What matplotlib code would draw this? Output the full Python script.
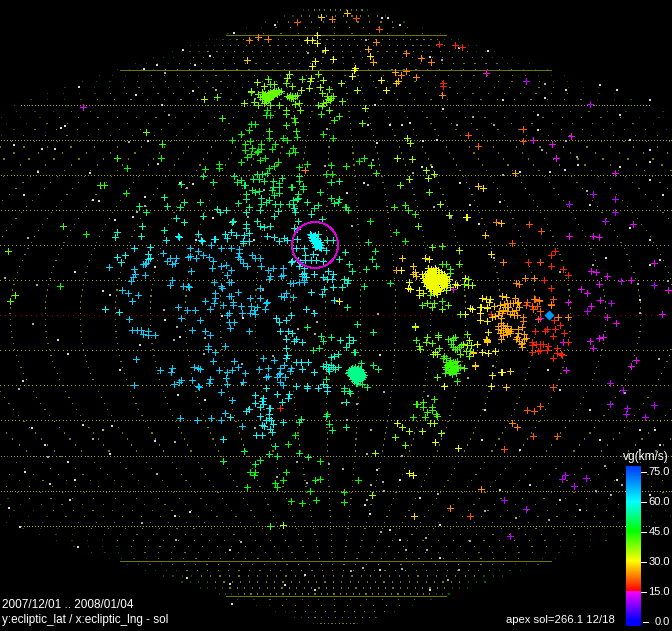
import numpy as np
import matplotlib
matplotlib.use("Agg")
import matplotlib.pyplot as plt
from matplotlib.colors import LinearSegmentedColormap
from matplotlib.patches import Circle

# map units: 3.505 per degree, origin in the upper-left corner of the sinusoidal map
# ---------- radiants, per geocentric speed vg (km/s) ----------
v11 = [(526,81),(590,104),(593,194),(615,199),(569,204),(615,212),(605,221),(621,281),(654,285),(587,311),(611,303),
       (610,383),(623,390),(610,404),(627,408),(626,414),(654,405),(645,417),(510,536),(562,479),(565,475),(574,486),(586,478),(504,500),(526,509)]
v13 = [(83,107),(486,73),(533,140),(552,144),(571,136),(556,158),(615,173),(633,224),(569,236),(593,236),(599,237),(654,263),
       (591,271),(596,272),(607,276),(631,280),(599,284),(668,290),(581,289),(587,293),(600,300),(591,306),(568,302),(662,314),
       (453,289),(540,318),(568,302),(590,341),(593,348),(599,338),(603,337),(607,317),(616,323),(563,342),(566,370),(631,366),(636,360)]
v17 = [(439,44),(455,45),(462,47),(443,83),(443,86),(563,269),(568,275),(555,251),(551,255),(528,262),(551,266),(544,280),(551,288),
       (491,314),(280,408),(532,342),(532,345),(536,344),(540,344),(543,344),(532,352),(540,350),(538,351),(547,350),(548,346),
       (557,348),(568,342),(553,358),(557,353),(561,354),(562,355),(535,331),(547,329),(545,331),(555,329),(560,325),(553,336),(564,333),(554,320)]
v20 = [(297,22),(356,18),(379,29),(523,129),(523,141),(468,135),(478,146),(529,224),(541,231),(512,243),(540,262),(553,299),(551,304),
       (527,302),(526,305),(532,306),(535,299),(539,301),(537,306),(533,309),(540,311),(538,319),(553,387),(527,410),(534,411),(540,406),(533,436),(557,436),(504,449),(470,516)]
v23 = [(249,40),(258,37),(268,39),(332,19),(305,170),(376,42),(406,53),(421,58),(431,62),(442,95),(401,75),(416,77),(406,71),(496,222),
       (503,262),(525,278),(534,278),(516,283),(519,284),(539,300),(534,299),(551,305),(523,317),(523,321),(558,317),(568,317),(512,423),(517,427),(481,489),(450,508)]
v25 = [(504,304),(507,303),(510,303),(505,307),(508,307),(513,303),(517,303),(518,302),(512,311),(507,311),(503,310),(510,314),(516,310),(517,315),
       (514,315),(519,307),(499,311),(502,313),(498,315),(501,318),(515,298),(515,173),(368,49),(373,62),(395,72),(396,270),
       (501,323),(503,325),(507,326),(498,329),(501,330),(500,333),(503,335),(507,334),(510,333),(501,339),(507,330),(510,331),(518,329),(522,327),
       (518,333),(517,337),(524,334),(516,339),(519,341),(524,339),(526,338),(522,343),(522,347),(521,344),(505,328),(498,326),(503,330),(506,332),(511,329)]
v27 = [(321,17),(247,60),(347,13),(398,81),(396,83),(478,186),(501,223),(485,235),(506,387),(510,371),(475,365),(473,352),(495,316),(492,317),
       (494,306),(500,305),(487,307),(502,296),(506,297),(487,340),(487,342),(473,353),(475,366),(414,516),(486,339),(487,341),(402,258),(413,266),(415,272),(413,274),(416,276)]
v29 = [(317,35),(370,56),(483,188),(491,254),(425,258),(429,259),(480,307),(480,320),(488,332),(489,302),(492,375),(491,386),(482,298),(486,299),(490,299)]
v31 = [(307,40),(312,40),(317,43),(325,50),(315,61),(312,66),(333,59),(354,70),(355,68),(352,76),(381,80),(386,90),(466,217),(467,217),
       (339,301),(401,270),(409,282),(408,288),(410,289),(419,290),(419,295),(455,284),(457,285),(465,278),(481,307),(487,308),(480,313),(470,308),(472,309),(465,314),
       (487,321),(477,344),(482,352),(488,353),(495,351),(501,372),(502,372),(415,326),(458,448),(435,442),(409,473),(413,475),(444,386),(397,423)]
gem = [(425,274),(428,271),(431,269),(435,268),(438,270),(441,272),(444,274),(446,277),(423,278),(426,278),(429,275),(432,272),(435,272),(438,274),(441,276),(444,279),
       (447,281),(424,282),(427,282),(430,279),(433,276),(436,275),(439,278),(442,280),(445,283),(426,286),(429,285),(432,282),(435,279),(438,282),(441,284),(444,287),
       (429,288),(432,286),(435,284),(438,286),(441,288),(431,291),(434,289),(437,290),(440,291),(434,293),(437,294),(428,268),(447,285),(422,274),(449,279),
       (427,273),(430,272),(433,270),(436,270),(439,272),(442,274),(445,276),(425,276),(428,277),(431,277),(434,274),(437,277),(440,280),(443,282),(446,283),(428,280),(431,281),(434,281),(437,280),(440,278),(443,277),
       (425,280),(428,283),(431,284),(434,283),(437,283),(440,283),(443,285),(427,284),(430,287),(433,287),(436,288),(439,289),(442,286),(433,291),(436,292),(429,273),(432,275),(435,276),(438,276),(441,279),(433,279)]
v35 = [(289,74),(287,78),(310,81),(311,78),(323,80),(257,82),(264,86),(320,87),(309,88),(301,90),(251,91),(204,99),(244,103),(283,525),(407,138),(410,143),(412,159),
       (397,158),(426,170),(428,178),(434,174),(409,179),(440,204),(449,215),(459,250),(459,264),(450,287),(446,290),(468,285),(472,285),(341,83),(357,90),(365,108),
       (423,293),(435,352),(433,354),(437,354),(469,340),(463,344),(467,345),(471,345),(422,431),(409,431),(441,433),(402,427),(375,453),(372,495),(430,423),(434,423),(415,327)]
cluster_n1 = [(258,94),(260,97),(262,92),(262,99),(264,96),(265,94),(266,98),(266,101),(267,95),(268,93),(268,97),(269,99),(270,95),(270,92),(271,97),(272,93),(273,96),(274,90),
              (275,93),(276,91),(277,94),(279,92),(281,91),(287,96),(289,97),(290,95),(291,98),(292,96),(293,98),(295,96),(297,95),(270,105),(264,103),(258,105),
              (263,94),(265,99),(267,97),(268,100),(269,94),(271,94),(272,96),(273,92),(274,94),(276,93),(278,90)]
cluster_n2 = [(318,105),(323,103),(322,106),(329,110),(322,93),(327,96),(333,96),(330,100),(329,89),(300,110),(295,104),(299,103),(286,110),(279,105),(254,102),(217,97),(302,79),(268,79),(286,83),(270,84),(274,84),(292,86),(318,74),(251,92),(326,102),(328,99),(331,98)]
v39 = cluster_n1 + cluster_n2 + [(146,132),(15,295),(10,301),(8,251),(342,101),(362,123),(400,185),(429,192),(418,226),(459,264),(422,305),(427,303),(448,305),(442,309),(464,284),(468,279),(432,247),
       (427,337),(426,342),(432,343),(438,335),(438,337),(419,346),(420,349),(439,348),(460,354),(466,351),(470,351),(469,356),(464,368),(437,377),(405,445),(395,437),
       (467,334),(434,303),(432,307),(430,295),(460,314)]
south_lime = [(451,344),(453,347),(455,349),(457,349),(459,347),(461,345),(448,339),(453,338),(455,337),(453,340),(444,356),(446,358),(443,358),(445,373),(450,372),(456,373),(457,381),
              (447,365),(450,367),(452,365),(454,369),(456,365),(458,368),(448,370),(451,370),(455,371),(445,367),(460,367),(453,362),(457,361),(446,362),(450,360),(449,364),(455,362),(452,374),
              (448,367),(453,367),(450,365),(446,369),(449,372),(451,363),(455,367),(457,367)]
v42 = south_lime + [(222,118),(286,125),(269,131),(296,131),(295,122),(294,118),(286,114),(321,114),(334,120),(162,144),(117,158),(63,226),(100,185),(104,185),(339,116),(376,173),(371,165),(394,207),(405,205),(408,210),(415,214),
       (442,246),(442,301),(442,264),(446,264),(450,269),(450,273),(416,340),(270,526),(416,404),(417,404),(423,402),(423,407),(434,399),(432,407),(432,410),(427,412),(425,417),(413,417),(436,414),(437,416)]
v45 = [(251,124),(255,124),(249,130),(241,134),(323,134),(297,137),(232,140),(250,141),(269,138),(283,138),(287,140),(333,138),(245,144),(245,150),(252,148),(251,154),(261,144),(261,149),(258,151),(257,152),(275,144),(272,149),(293,148),(289,153),(295,152),
       (247,157),(241,162),(260,160),(265,158),(278,162),(274,166),(269,168),(219,164),(219,168),(205,169),(299,167),(307,164),(331,165),(326,174),(332,174),(266,115),(270,115),(267,110),
       (161,158),(127,168),(126,193),(86,234),(60,286),(364,158),(359,161),(346,166),(370,221),(396,232),(405,241),(358,480),(344,492),(344,502),(315,480),(320,479),(310,491),(291,501),(302,503),(316,500),(250,472),(255,472),(254,475),(295,435),(288,444),(326,416),(327,414),(320,461),(286,472),(283,480),(275,483),(277,487),(247,487)]
v50 = [(203,176),(234,176),(257,174),(262,174),(267,173),(299,176),(299,181),(331,182),(181,184),(213,182),(241,180),(237,182),(244,185),(245,185),(253,179),(259,179),(264,181),(273,181),(282,178),(279,183),(279,187),(273,187),(272,190),(291,187),(292,187),(303,186),(303,189),(252,190),(255,192),(259,191),(279,193),(274,195),(298,194),(320,192),(298,198),(246,194),(246,199),(331,198),(334,203),
       (146,212),(368,242),(390,283),(339,199),(338,202),(345,207),(346,207),(348,210),(375,251),(372,259),(366,269),(376,266),(364,286),(373,365),(378,369),(361,363),(357,383),(362,384),(367,387),(269,454),(277,456),(299,453),(308,457),(244,451),(223,461),(260,460),(255,464),(329,424),(332,430),(326,379),(307,327),(313,350),(319,348)]
teal_swarm = [(349,370),(352,368),(355,367),(358,368),(361,370),(363,372),(350,373),(353,371),(356,370),(359,372),(362,374),(351,376),(354,374),(357,373),(360,375),(363,377),(352,379),(355,377),(358,376),(361,378),(354,381),(357,380),(360,380),(356,383),(348,373),(364,375),
              (351,369),(354,369),(357,369),(360,369),(349,372),(352,372),(355,372),(358,372),(361,372),(350,375),(353,375),(356,375),(359,375),(362,376),(353,378),(356,378),(359,378),(362,379),(355,380),(358,381)]
v53 = teal_swarm + [(339,181),(349,264),(352,271),(364,286),(347,307),(357,324),(373,332),(354,352),(355,352),(346,427),(344,388),(344,391),(349,391),(350,393),(321,336),(331,337),(323,341),(326,416),(301,419),(299,422),(275,446),(139,206),(164,197),(167,206),(184,202),(180,207),(200,202),(238,203),(249,207),(246,199),(261,198),(261,204),(266,202),(269,200),(275,204),(280,204),(289,204),(293,204),(293,200),(297,199),(307,202),(318,205),(314,208)]
v57 = [(278,211),(217,209),(220,212),(226,210),(246,212),(260,210),(295,212),(294,208),(311,214),(274,216),(176,218),(184,222),(203,216),(232,222),(233,221),(246,224),(246,228),(257,221),(260,226),(264,227),(270,226),(298,221),(322,219),(142,226),(117,232),(115,237),(141,236),(164,230),(294,228),(318,234),(327,240),(333,240),(297,229),
       (345,252),(339,259),(344,279),(348,280),(347,283),(342,287),(340,340),(349,343),(353,340),(349,337),(346,347),(346,402),(331,357),(334,356),(326,364),(328,369),(333,367),(329,371),(326,367),(331,365),(323,366),(335,369),(338,367),(338,354)]
cyan_swarm = [(311,237),(313,236),(315,235),(317,238),(312,240),(314,239),(316,241),(318,240),(320,242),(314,243),(316,244),(318,243),(320,245),(315,247),(317,246),(319,247),(321,248),(313,238),(310,234),
              (313,241),(315,238),(315,243),(317,241),(319,244),(316,246),(318,245),(320,247),(311,235),(312,238),(314,236)]
v60 = cyan_swarm + [(178,236),(179,237),(166,240),(198,234),(201,240),(202,241),(215,239),(214,239),(225,234),(227,238),(231,232),(236,235),(244,235),(249,233),(243,241),(249,241),(243,243),(267,236),(274,237),(284,238),(287,240),(279,241),(297,239),(304,248),(296,248),(326,250),(313,254),(305,255),(298,260),(292,261),(291,262),(300,262),(305,260),(311,260),(316,260),(323,261),(304,268),(299,266),(314,274),(328,271),(323,277),(333,274),(327,279),(332,279),(302,274),(306,277),(304,273),(311,292),(322,294),(324,289),(333,287),(306,309),(334,300),(314,313),(291,315),
       (105,309),(119,312),(117,257),(125,255),(121,262),(134,248),(150,247),(148,254),(148,259),(150,258),(276,318),(286,320),(279,322),(280,331),(288,331),(292,333),(286,339),(296,339),(294,341),(302,342),(286,348),(287,355),(286,358),(296,362),(301,362),(308,362),(302,369),(314,372),(296,386),(307,386),(307,388),(318,388),(323,384),(327,387),(327,391),(289,394),(288,398),(282,402),(283,422),(273,424),(270,429),(272,432),(256,435),(262,435),(223,439),(260,416),(269,414),(266,420),(271,420),(269,418),(262,425),(264,426),(269,408),(270,408),(249,409),(246,411),(263,398),(262,401),(263,404),(260,407),(255,395),(255,403),(277,394),(266,388),(225,413),(230,417)]
v64 = [(134,269),(135,274),(133,277),(131,281),(145,275),(109,267),(122,290),(128,293),(138,295),(132,301),(143,264),(145,264),(146,263),(163,253),(170,258),(176,258),(167,261),(172,264),(175,263),(190,248),(190,256),(188,257),(198,251),(196,258),(211,245),(221,248),(231,248),(239,249),(239,253),(203,255),(209,257),(238,257),(240,259),(243,263),(247,266),(252,255),(255,258),(260,258),(261,266),(268,270),(273,268),(270,276),(269,279),(283,268),(281,276),(283,275),(293,283),(290,283),(299,282),(304,282),(302,276),(304,280),(284,297),(281,296),(293,297),(286,293),(260,288),(266,303),(267,302),(265,309),
       (172,280),(170,285),(183,286),(188,286),(189,287),(214,282),(221,286),(222,288),(229,282),(231,282),(238,292),(178,307),(187,310),(195,310),(210,309),(205,301),(215,293),(215,298),(214,303),(223,305),(233,302),(229,296),(231,296),(233,305),(241,306),(250,298),(260,298),(251,306),(254,310),(257,307),(227,315),(229,313),(255,314),(242,313),(250,313),(191,271),(213,261),(212,268),(221,266),(226,265),(231,270),(227,275),
       (129,319),(132,330),(137,330),(141,330),(143,334),(148,331),(148,335),(155,335),(181,318),(192,330),(200,320),(205,331),(210,335),(229,322),(234,322),(230,328),(249,331),(208,346),(208,349),(215,352),(225,346),(136,359),(160,370),(172,368),(171,372),(194,367),(198,368),(200,369),(213,361),(219,370),(227,372),(232,370),(234,361),(238,367),(245,373),(226,378),(210,379),(209,383),(192,380),(181,380),(179,382),(174,384),(134,385),(198,386),(199,387),(227,384),(243,382),(221,392),(232,400),(225,413),(180,418),(197,420),(211,418),(221,420),(242,426),(263,358),(274,360),(259,369),(268,368),(280,368),(284,365),(291,368),(290,371),(280,373),(285,377),(277,377),(279,374),(266,377),(268,376),(280,382),(283,385)]
apex_vg = [69]
apex_pos = [(548.5,315)]

# ---------- unclassified meteors ----------
grey_big = [(165,73),(216,90),(169,115),(129,142),(137,212),(28,238),(5,278),(37,285),(187,188),(145,206),(264,190),(325,166),(327,129),(308,53),(323,52),(248,217),(318,255),(164,310),(263,290),(314,311),(255,99),
            (366,40),(442,60),(545,84),(473,117),(457,125),(494,125),(566,141),(542,150),(577,157),(373,160),(413,173),(503,175),(368,185),(434,207),(352,226),(451,217),(587,191),(494,258),(593,265),(560,272),(638,284),(668,281),(378,314),(640,313),
            (33,324),(177,327),(174,340),(205,338),(286,336),(298,329),(317,322),(315,334),(204,354),(242,364),(242,384),(249,408),(255,428),(273,356),(19,389),(93,439),(103,430),(175,442),(48,457),(157,474),(297,462),(329,464),(307,483),(277,477),(142,523),(176,540),(241,542),
            (343,469),(357,404),(342,403),(371,430),(367,454),(384,392),(468,378),(493,366),(428,396),(347,420),(402,456),(384,491),(438,494),(485,511),(516,518),(549,520),(371,485),(383,482),(367,500),(381,532),(426,538),(470,541),(406,550),(427,550),(363,568),(402,569),(459,570),(448,580),(351,571),(611,495),(622,485),(659,359),(605,466),(625,393),(596,491)]
grey_small = [(275,25),(234,33),(144,69),(195,65),(210,56),(157,65),(183,50),(79,87),(193,91),(136,95),(162,105),(61,128),(65,126),(148,141),(14,145),(42,149),(55,149),(38,172),(90,173),(158,164),(180,183),(193,184),(24,195),(93,200),(99,201),(145,197),(133,217),(115,220),(75,272),(103,291),(110,295),(155,267),(213,218),(196,240),(254,240),
              (382,18),(388,18),(400,25),(430,57),(459,48),(488,51),(368,125),(402,125),(437,140),(377,143),(423,141),(375,105),(503,100),(538,130),(545,98),(566,90),(600,85),(617,90),(650,100),(538,115),(565,170),(620,115),(630,140),(578,165),(620,167),(650,162),(650,180),(663,195),(650,240),(630,228),(606,258),(650,265),(590,205),(550,172),(520,172),
              (460,183),(432,167),(422,167),(364,183),(347,193),(390,125),(410,123),(443,109),(500,202),(479,224),(470,205),(650,150),(640,300),(660,260),
              (23,381),(58,340),(68,354),(120,370),(140,345),(180,337),(165,320),(222,316),(243,318),(178,395),(205,400),(32,428),(83,425),(112,426),(45,445),(68,462),(110,454),(155,441),(75,480),(50,484),(25,472),(70,500),(9,508),(20,527),(78,547),(175,516),(190,512),(230,550),(230,584),(187,578),(232,604),(285,585),(305,575),(315,590),
              (380,355),(470,354),(485,410),(548,370),(560,390),(590,410),(640,430),(655,430),(600,440),(640,450),(660,445),(370,514),(365,505),(390,530),(420,498),(500,490),(530,485),(560,500),(580,510),(617,480),(640,488),(650,495),(440,525),(400,540),(380,570),(430,590),(440,558),(377,470),(400,480),(482,440),(520,450)]

LAT_STEP = {0: 1.5, 10: 1.2, 20: 1.2, 30: 1.2, 40: 1.2, 50: 1.3, 60: 1.7, 70: 1.0, 80: 1.0}
VG_GROUPS = [(11,v11),(14,v13),(17,v17),(20,v20),(23,v23),(25,v25),(27,v27),(29,v29),(30.5,v31),(31,gem),(35,v35),(39,v39),(42,v42),(45,v45),(50,v50),(53,v53),(57,v57),(60,v60),(64,v64)]
TICKS = [75, 60, 45, 30, 15, 0]

SCALE = 3.505
X0, Y0 = 336.0, 315.3
def project(lng, lat):
    lng, lat = np.broadcast_arrays(np.asarray(lng, float), np.asarray(lat, float))
    return X0 + SCALE * lng * np.cos(np.radians(lat)), Y0 - SCALE * lat

cmap = LinearSegmentedColormap.from_list("vg", [
    (0/77.5, (0,0,1)), (14.9/77.5, (1,0,1)), (15/77.5, (1,0,0)), (30/77.5, (1,1,0)),
    (45/77.5, (0,1,0)), (60/77.5, (0,1,1)), (75/77.5, (0,0.33,1)), (1, (0,0.25,1))], N=512)

fig = plt.figure(figsize=(6.72, 6.31), dpi=100, facecolor="black")
ax = fig.add_axes([0, 0, 1, 1], facecolor="black")
ax.set_axis_off()
PX = 0.5184  # one pixel, as a marker area

# ---- graticule
gx, gy, gc = [], [], []
for lat in range(-80, 81, 10):
    step = LAT_STEP[abs(lat)]
    lng = np.arange(-180, 180.01, step)
    x, y = project(lng, lat)
    if abs(lat) >= 70:
        ax.plot(x, y, color=(0.45,0.45,0), lw=0.72, ls="-" if abs(lat)==80 else (0,(9,1)), antialiased=False, zorder=1)
    else:
        ax.scatter(x, y, s=PX, marker="s", lw=0, color=(0.6,0,0) if lat == 0 else (0.65,0.65,0), antialiased=False, zorder=1)
for lng in np.arange(-183, 178, 10):
    for gl in np.arange(-88, 88.1, 1.7):
        if abs(gl) > 80 and (lng + 183) % 30 != 0:
            continue
        x, y = project(lng, gl)
        gx.append(float(x)); gy.append(float(y))
        gc.append((0, 0.36, 0) if abs(lng) > 150 else (0.48, 0.48, 0))
ax.scatter(gx, gy, s=PX*1.4, marker="s", lw=0, color=gc, antialiased=False, zorder=1)

# ---- meteors
ax.scatter(*zip(*grey_small), s=PX*1.4, marker="s", lw=0, color="#d8d8d8", antialiased=False, zorder=2)
ax.scatter(*zip(*grey_big), s=PX*4, marker="s", lw=0, color="#aaaaaa", antialiased=False, zorder=2)
for vg, pts in VG_GROUPS:
    xs, ys = zip(*pts)
    ax.scatter(xs, ys, c=[vg]*len(xs), cmap=cmap, vmin=0, vmax=77.5, marker="+", s=13, linewidths=0.72, antialiased=False, zorder=3)
ax.scatter(*zip(*apex_pos), c=apex_vg, cmap=cmap, vmin=0, vmax=77.5, marker="D", s=26, lw=0, zorder=4)
ax.add_patch(Circle((315, 245), 23, fill=False, ec=(0.85,0,0.85), lw=0.6, antialiased=False, zorder=4))

# ---- colour bar
vals = np.linspace(77.5, -2.5, 160).reshape(-1, 1)
ax.imshow(vals, cmap=cmap, vmin=0, vmax=77.5, extent=(626, 641, 626, 466), aspect="auto", interpolation="nearest", zorder=5)
font = dict(family="Liberation Sans", color="white")
for t in TICKS:
    y = 621.7 - 2 * t
    x0 = 643 if t == 0 else 641
    ax.plot([x0, x0 + 5], [y, y], color="white", lw=0.72, antialiased=False, zorder=5)
    ax.text(670, y, f"{t:.1f}", ha="right", va="center", fontsize=8, **font)
ax.text(646, 457, "vg(km/s)", ha="center", va="center", fontsize=8.6, **font)
ax.text(2, 605, "2007/12/01 .. 2008/01/04", ha="left", va="center", fontsize=8.5, **font)
ax.text(2, 620, "y:ecliptic_lat / x:ecliptic_lng - sol", ha="left", va="center", fontsize=8.5, **font)
ax.text(506, 620, "apex sol=266.1 12/18", ha="left", va="center", fontsize=8.1, **font)

ax.set_xlim(0, 672)
ax.set_ylim(631, 0)
fig.savefig("out.png", dpi=100, facecolor="black")
